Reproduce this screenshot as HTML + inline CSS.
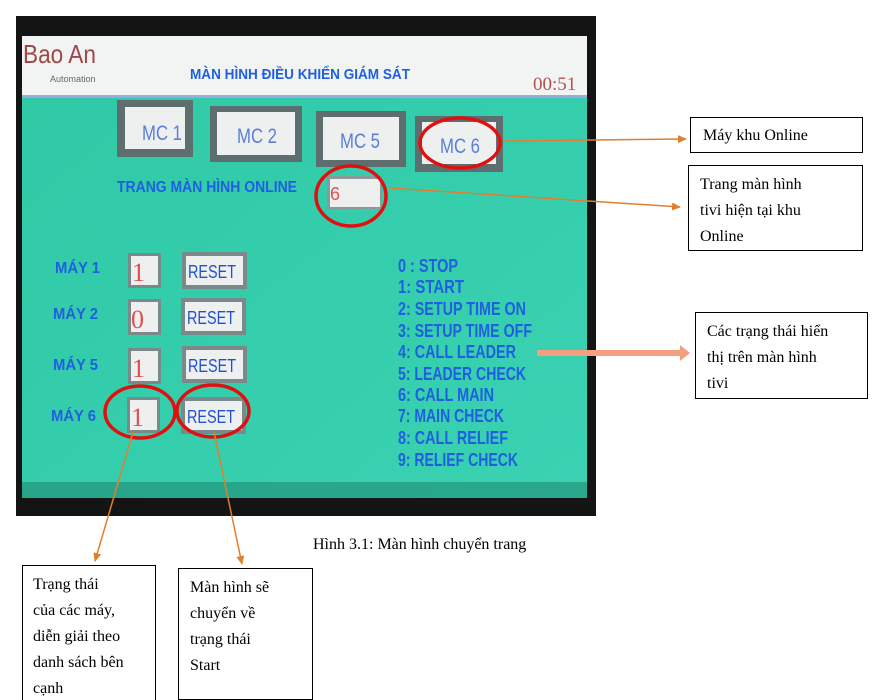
<!DOCTYPE html>
<html><head><meta charset="utf-8"><style>
body{margin:0;background:#fff;width:883px;height:700px;overflow:hidden}
svg{display:block}
.s{font-family:"Liberation Serif","DejaVu Serif",serif;font-size:16px;fill:#000}
.b{font-family:"Liberation Sans","DejaVu Sans",sans-serif;font-weight:bold;fill:#1f5fe0}
</style></head><body>
<svg width="883" height="700" viewBox="0 0 883 700" xmlns="http://www.w3.org/2000/svg">
<defs>
<linearGradient id="tg" x1="0" y1="0" x2="1" y2="1"><stop offset="0" stop-color="#2fc9a6"/><stop offset="1" stop-color="#3ad2b2"/></linearGradient>
<marker id="ar" markerWidth="10" markerHeight="10" refX="8" refY="5" orient="auto" markerUnits="userSpaceOnUse"><path d="M0,1 L9,5 L0,9 z" fill="#e07f2e"/></marker>
</defs>
<rect x="16" y="16" width="580" height="500" fill="#141414"/>
<rect x="22" y="36" width="565" height="462" fill="url(#tg)"/>
<rect x="22" y="36" width="565" height="60" fill="#f2f4f4"/>
<rect x="22" y="95" width="565" height="3" fill="#9ad"/>
<rect x="22" y="482" width="565" height="16" fill="#1f8a72" opacity="0.6"/>
<text x="23" y="63" font-family="Liberation Sans,sans-serif" font-size="26" fill="#a04848" textLength="73" lengthAdjust="spacingAndGlyphs">Bao An</text>
<text x="50" y="82" font-family="Liberation Sans,sans-serif" font-size="9" fill="#666">Automation</text>
<text x="300" y="79" text-anchor="middle" class="b" font-size="15" textLength="220" lengthAdjust="spacingAndGlyphs">MÀN HÌNH ĐIỀU KHIỂN GIÁM SÁT</text>
<text x="533" y="90" font-family="Liberation Serif,serif" font-size="19" fill="#b55050">00:51</text>
<g font-family="Liberation Sans,sans-serif" font-size="21" fill="#5a7fd8" text-anchor="middle" lengthAdjust="spacingAndGlyphs">
<rect x="117" y="100" width="76" height="57" fill="#5e6e6e"/><rect x="125" y="107" width="60" height="42" fill="#eef0f0"/><text x="162" y="140" textLength="40" lengthAdjust="spacingAndGlyphs">MC 1</text>
<rect x="210" y="106" width="92" height="56" fill="#5e6e6e"/><rect x="217" y="112" width="78" height="43" fill="#eef0f0"/><text x="257" y="143" textLength="40" lengthAdjust="spacingAndGlyphs">MC 2</text>
<rect x="316" y="111" width="90" height="56" fill="#5e6e6e"/><rect x="323" y="117" width="76" height="43" fill="#eef0f0"/><text x="360" y="148" textLength="40" lengthAdjust="spacingAndGlyphs">MC 5</text>
<rect x="415" y="116" width="88" height="56" fill="#5e6e6e"/><rect x="422" y="122" width="74" height="42" fill="#eef0f0"/><text x="460" y="153" textLength="40" lengthAdjust="spacingAndGlyphs">MC 6</text>
</g>
<text x="117" y="192" class="b" font-size="16" textLength="180" lengthAdjust="spacingAndGlyphs">TRANG MÀN HÌNH ONLINE</text>
<rect x="327" y="176" width="55" height="33" fill="#8a9a9a"/><rect x="330" y="179" width="50" height="28" fill="#eef0f0"/>
<text x="330" y="200" font-family="Liberation Sans,sans-serif" font-size="18" fill="#e05050">6</text>
<g class="b" font-size="16">
<text x="55" y="273" textLength="45" lengthAdjust="spacingAndGlyphs">MÁY 1</text><text x="53" y="319" textLength="45" lengthAdjust="spacingAndGlyphs">MÁY 2</text><text x="53" y="370" textLength="45" lengthAdjust="spacingAndGlyphs">MÁY 5</text><text x="51" y="421" textLength="45" lengthAdjust="spacingAndGlyphs">MÁY 6</text>
</g>
<g>
<rect x="128" y="253" width="33" height="35" fill="#7a8a8a"/><rect x="131" y="256" width="27" height="29" fill="#eef0f0"/>
<rect x="128" y="299" width="33" height="36" fill="#7a8a8a"/><rect x="131" y="302" width="27" height="30" fill="#eef0f0"/>
<rect x="128" y="348" width="33" height="36" fill="#7a8a8a"/><rect x="131" y="351" width="27" height="30" fill="#eef0f0"/>
<rect x="127" y="397" width="33" height="36" fill="#7a8a8a"/><rect x="130" y="400" width="27" height="30" fill="#eef0f0"/>
</g>
<g font-family="Liberation Serif,serif" font-size="26" fill="#e05050">
<text x="132" y="281">1</text><text x="131" y="328">0</text><text x="132" y="377">1</text><text x="131" y="426">1</text>
</g>
<g>
<rect x="182" y="252" width="65" height="37" fill="#7a8a8a"/><rect x="186" y="256" width="57" height="29" fill="#eef0f0"/>
<rect x="181" y="298" width="65" height="37" fill="#7a8a8a"/><rect x="185" y="302" width="57" height="29" fill="#eef0f0"/>
<rect x="182" y="346" width="65" height="37" fill="#7a8a8a"/><rect x="186" y="350" width="57" height="29" fill="#eef0f0"/>
<rect x="181" y="397" width="65" height="37" fill="#7a8a8a"/><rect x="185" y="401" width="57" height="29" fill="#eef0f0"/>
</g>
<g font-family="Liberation Sans,sans-serif" font-size="18" fill="#2050d0">
<text x="188" y="278" textLength="48" lengthAdjust="spacingAndGlyphs">RESET</text><text x="187" y="324" textLength="48" lengthAdjust="spacingAndGlyphs">RESET</text><text x="188" y="372" textLength="48" lengthAdjust="spacingAndGlyphs">RESET</text><text x="187" y="423" textLength="48" lengthAdjust="spacingAndGlyphs">RESET</text>
</g>
<g class="b" font-size="18">
<text x="398" y="272" textLength="60" lengthAdjust="spacingAndGlyphs">0 : STOP</text>
<text x="398" y="293" textLength="66" lengthAdjust="spacingAndGlyphs">1: START</text>
<text x="398" y="315" textLength="128" lengthAdjust="spacingAndGlyphs">2: SETUP TIME ON</text>
<text x="398" y="337" textLength="134" lengthAdjust="spacingAndGlyphs">3: SETUP TIME OFF</text>
<text x="398" y="358" textLength="118" lengthAdjust="spacingAndGlyphs">4: CALL LEADER</text>
<text x="398" y="380" textLength="128" lengthAdjust="spacingAndGlyphs">5: LEADER CHECK</text>
<text x="398" y="401" textLength="96" lengthAdjust="spacingAndGlyphs">6: CALL MAIN</text>
<text x="398" y="422" textLength="106" lengthAdjust="spacingAndGlyphs">7: MAIN CHECK</text>
<text x="398" y="444" textLength="110" lengthAdjust="spacingAndGlyphs">8: CALL RELIEF</text>
<text x="398" y="466" textLength="120" lengthAdjust="spacingAndGlyphs">9: RELIEF CHECK</text>
</g>
<g fill="none" stroke="#e01010" stroke-width="3.5">
<ellipse cx="460" cy="143" rx="40" ry="25"/>
<ellipse cx="351" cy="196" rx="35" ry="30"/>
<ellipse cx="140" cy="412" rx="35" ry="26"/>
<ellipse cx="213" cy="411" rx="36" ry="26"/>
</g>
<g stroke="#e07f2e" stroke-width="1.5" fill="none" marker-end="url(#ar)">
<line x1="503" y1="141" x2="686" y2="139"/>
<line x1="390" y1="188" x2="680" y2="207"/>
<line x1="133" y1="432" x2="95" y2="561"/>
<line x1="214" y1="432" x2="242" y2="564"/>
</g>
<rect x="537" y="350" width="144" height="6" fill="#f4a07e"/>
<path d="M680,345 L690,353 L680,361 z" fill="#f4a07e"/>
<g fill="#fff" stroke="#000" stroke-width="1">
<rect x="690.5" y="117.5" width="172" height="35"/>
<rect x="688.5" y="165.5" width="174" height="85"/>
<rect x="695.5" y="312.5" width="172" height="86"/>
<rect x="22.5" y="565.5" width="133" height="140"/>
<rect x="178.5" y="568.5" width="134" height="131"/>
</g>
<text x="703" y="140" class="s">Máy khu Online</text>
<text x="700" y="189" class="s">Trang màn hình</text>
<text x="700" y="215" class="s">tivi hiện tại khu</text>
<text x="700" y="241" class="s">Online</text>
<text x="707" y="336" class="s">Các trạng thái hiển</text>
<text x="707" y="362" class="s">thị trên màn hình</text>
<text x="707" y="388" class="s">tivi</text>
<text x="33" y="589" class="s">Trạng thái</text>
<text x="33" y="615" class="s">của các máy,</text>
<text x="33" y="641" class="s">diễn giải theo</text>
<text x="33" y="667" class="s">danh sách bên</text>
<text x="33" y="693" class="s">cạnh</text>
<text x="190" y="592" class="s">Màn hình sẽ</text>
<text x="190" y="618" class="s">chuyển về</text>
<text x="190" y="644" class="s">trạng thái</text>
<text x="190" y="670" class="s">Start</text>
<text x="313" y="549" class="s">Hình 3.1: Màn hình chuyển trang</text>
</svg>
</body></html>
